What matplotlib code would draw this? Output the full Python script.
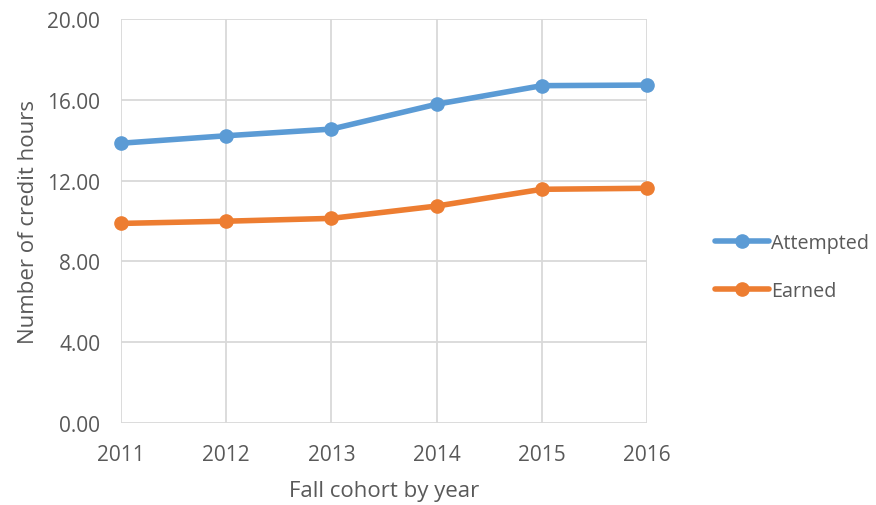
import matplotlib
matplotlib.use("Agg")
import matplotlib.pyplot as plt

years = ["2011", "2012", "2013", "2014", "2015", "2016"]
attempted = [13.85, 14.22, 14.55, 15.78, 16.70, 16.73]
earned = [9.88, 9.99, 10.13, 10.74, 11.57, 11.62]
yticks = [0, 4, 8, 12, 16, 20]

blue = "#5b9bd5"
orange = "#ed7d31"
grid = "#d9d9d9"
txt = "#595959"

plt.rcParams['font.family'] = ['Open Sans', 'DejaVu Sans']

fig = plt.figure(figsize=(8.76, 5.06), dpi=100)
ax = fig.add_axes([121/876, 1-424/506, (647-121)/876, (424-20)/506])

x = list(range(len(years)))
ax.plot(x, attempted, color=blue, lw=4.0, marker='o', ms=9.5, label="Attempted",
        solid_capstyle='round', zorder=3)
ax.plot(x, earned, color=orange, lw=4.0, marker='o', ms=9.5, label="Earned",
        solid_capstyle='round', zorder=3)

ax.set_xlim(0, len(years)-1)
ax.set_ylim(0, 20)
ax.set_xticks(x)
ax.set_xticklabels(years)
ax.set_yticks(yticks)
ax.set_yticklabels([f"{v:.2f}" for v in yticks])
ax.grid(True, color=grid, lw=1.3, zorder=0)
for s in ax.spines.values():
    s.set_visible(False)
ax.tick_params(length=0, colors=txt, labelsize=15)
ax.tick_params(axis='x', pad=15)
ax.tick_params(axis='y', pad=15)
for ln in ax.lines:
    ln.set_clip_on(False)

ax.set_xlabel("Fall cohort by year", color=txt, fontsize=16, labelpad=11)
ax.set_ylabel("Number of credit hours", color=txt, fontsize=16, labelpad=6)

leg = fig.legend(handles=ax.lines, labels=["Attempted", "Earned"],
                 loc='center left', bbox_to_anchor=(697/876, 1-268/506),
                 frameon=False, fontsize=14.2, handlelength=2.75,
                 handletextpad=0.1, labelspacing=1.45, labelcolor=txt)

fig.savefig("out.png", dpi=100)
